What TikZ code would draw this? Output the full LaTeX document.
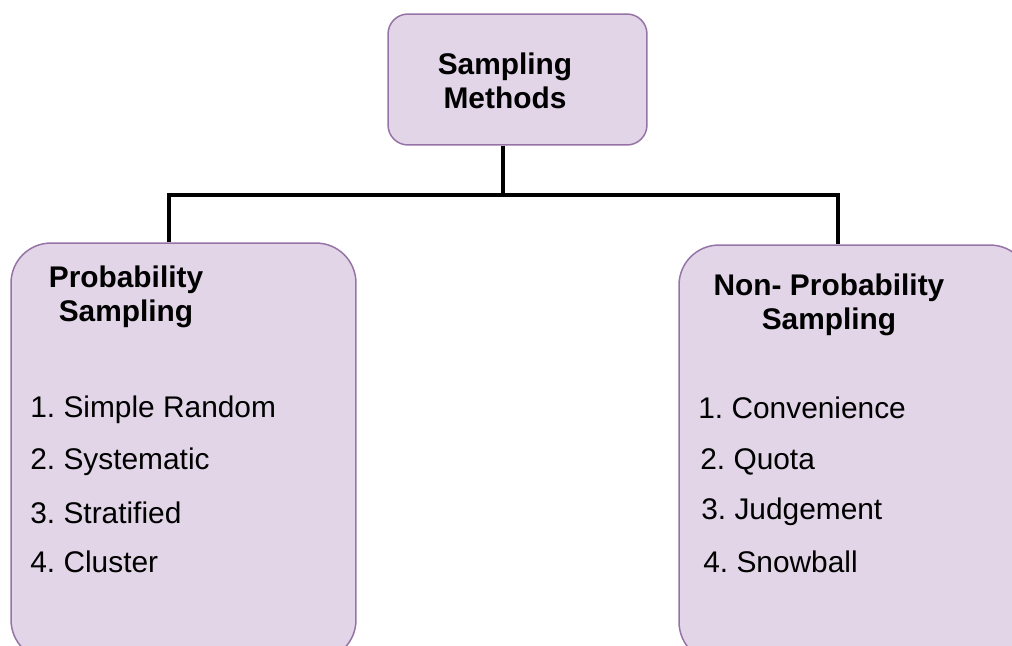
\documentclass[tikz,border=0pt]{standalone}
\usepackage{fontspec}
\setmainfont{Liberation Sans}
\usetikzlibrary{positioning}
\definecolor{boxfill}{HTML}{E1D5E7}
\definecolor{boxline}{HTML}{9673A6}
\frenchspacing

\begin{document}
\begin{tikzpicture}[x=0.02cm,y=-0.02cm]
    \tikzstyle{box}=[rectangle,draw=boxline,fill=boxfill,line width=0.85pt]
    \tikzstyle{title}=[align=center,font=\fontsize{17}{19}\selectfont\bfseries]
    \tikzstyle{entry}=[anchor=west,inner sep=0pt,font=\fontsize{17}{20}\selectfont]
    \tikzstyle{link}=[line width=2pt]
    \clip (0,0) rectangle (1012,646);
    \node (methods)  at (517.5,79.5) [box,rounded corners=0.4cm,minimum width=5.18cm,minimum height=2.62cm] {};
    \node (prob)     at (183.5,451.5) [box,rounded corners=0.8cm,minimum width=6.9cm,minimum height=8.34cm] {};
    \node (nonprob)  at (854.5,453.5) [box,rounded corners=0.8cm,minimum width=7.02cm,minimum height=8.34cm] {};
    \node (methodsT) at (505,81)  [title] {Sampling\\Methods};
    \node (probT)    at (126,297) [title] {Probability\\Sampling};
    \node (nonprobT) at (829,305) [title] {Non- Probability\\Sampling};
    \node (prob1)    at (30,410)  [entry] {1. Simple Random};
    \node (prob2)    at (30,462)  [entry] {2. Systematic};
    \node (prob3)    at (30,513)  [entry] {3. Stratified};
    \node (prob4)    at (30,562)  [entry] {4. Cluster};
    \node (nonprob1) at (698,408) [entry] {1. Convenience};
    \node (nonprob2) at (700,462) [entry] {2. Quota};
    \node (nonprob3) at (701,512) [entry] {3. Judgement};
    \node (nonprob4) at (703,562) [entry] {4. Snowball};
    \coordinate (join) at (503,195);
    \coordinate (legL) at (169,195);
    \coordinate (legR) at (838,195);
    \draw [link] (methods.south -| join) -- (join);
    \draw [link] (prob.north -| legL) -- (legL) -- (legR) -- (nonprob.north -| legR);
\end{tikzpicture}
\end{document}
